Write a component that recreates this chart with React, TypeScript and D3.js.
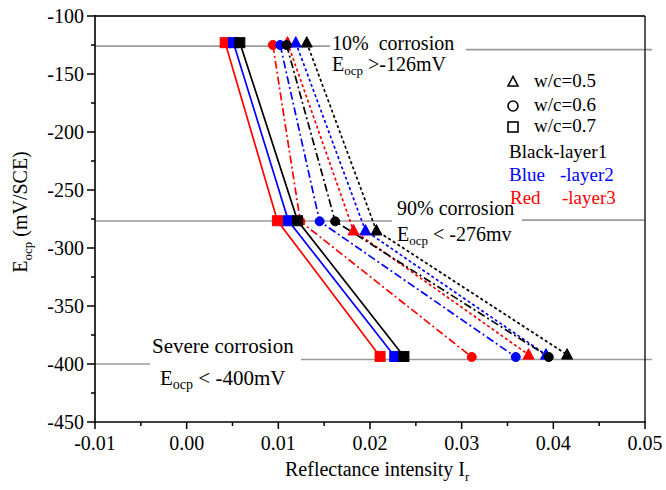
import React from 'react';
import * as d3 from 'd3';

const W = 666;
const H = 490;

// Axis domains and ticks
const xDomain = [-0.01, 0.05];
const yDomain = [-450, -100];
const xTicks = [-0.01, 0, 0.01, 0.02, 0.03, 0.04, 0.05];
const xTickLabels = ['-0.01', '0.00', '0.01', '0.02', '0.03', '0.04', '0.05'];
const xMinorTicks = [-0.005, 0.005, 0.015, 0.025, 0.035, 0.045];
const yTicks = [-100, -150, -200, -250, -300, -350, -400, -450];
const yMinorTicks = [-125, -175, -225, -275, -325, -375, -425];

// Series
const layerNames = ['layer1', 'layer2', 'layer3'];
const layerColors = ['#000000', '#0000ff', '#ff0000'];
const wcRatios = ['0.5', '0.6', '0.7'];
const wcMarkers = ['triangle', 'circle', 'square'];

// Eocp (mV/SCE) at 10% corrosion, 90% corrosion, severe corrosion, per w/c
const eocpWc05 = [-123, -285, -392];
const eocpWc06 = [-125, -277, -394];
const eocpWc07 = [-123, -276.5, -393.5];

// Reflectance intensity per layer: [w/c 0.5, w/c 0.6, w/c 0.7]
const irLayer1 = [
  [0.0131, 0.0207, 0.0415],
  [0.0109, 0.0162, 0.0395],
  [0.0058, 0.0121, 0.0237],
];
const irLayer2 = [
  [0.0119, 0.0195, 0.0392],
  [0.0102, 0.0145, 0.0359],
  [0.0051, 0.0111, 0.0227],
];
const irLayer3 = [
  [0.011, 0.0182, 0.0373],
  [0.0094, 0.0124, 0.0311],
  [0.0042, 0.0099, 0.0211],
];

// Corrosion threshold levels
const thresholdLevels = [-126, -276, -400];

const FONT = 'Liberation Serif';

export default function App() {
  const left = 95, right = 645, top = 16, bottom = 422;
  const x = d3.scaleLinear().domain(xDomain).range([left, right]);
  const y = d3.scaleLinear().domain(yDomain).range([bottom, top]);

  const eocp = [eocpWc05, eocpWc06, eocpWc07];
  const ir = [irLayer1, irLayer2, irLayer3];
  const dashes = ['3,2.5', '8,3,2,3', undefined];

  const line = d3
    .line<[number, number]>()
    .x((d) => x(d[0]))
    .y((d) => y(d[1]));

  const order = [2, 1, 0]; // red, blue, black (black on top)

  const marker = (kind: string, cx: number, cy: number, color: string, key: string, hollow = false) => {
    const fill = hollow ? 'none' : color;
    const stroke = hollow ? '#000' : color;
    const sw = hollow ? 1.6 : 1;
    if (kind === 'square') {
      return <rect key={key} x={cx - 5} y={cy - 5} width={10} height={10} fill={fill} stroke={stroke} strokeWidth={sw} />;
    }
    if (kind === 'circle') {
      return <circle key={key} cx={cx} cy={cy} r={hollow ? 5 : 4.5} fill={fill} stroke={stroke} strokeWidth={sw} />;
    }
    const s = hollow ? 10 : 11;
    const pts = `${cx},${cy - s * 0.55} ${cx - s / 2},${cy + s * 0.4} ${cx + s / 2},${cy + s * 0.4}`;
    return <polygon key={key} points={pts} fill={fill} stroke={stroke} strokeWidth={sw} strokeLinejoin="miter" />;
  };

  const gray = '#9a9a9a';
  const tf = { fontFamily: FONT };

  return (
    <svg width={W} height={H} style={{ position: 'absolute', left: 0, top: 0, background: '#fff', fontFamily: FONT }}>
      <rect x={0} y={0} width={W} height={H} fill="#fff" />

      {/* threshold gray lines */}
      <g stroke={gray} strokeWidth={1.6}>
        <line x1={left} x2={330} y1={y(thresholdLevels[0])} y2={y(thresholdLevels[0])} />
        <line x1={466} x2={652} y1={y(thresholdLevels[0]) + 3.5} y2={y(thresholdLevels[0]) + 3.5} />
        <line x1={left} x2={392} y1={y(thresholdLevels[1]) + 0.8} y2={y(thresholdLevels[1]) + 0.8} />
        <line x1={522} x2={645} y1={y(thresholdLevels[1])} y2={y(thresholdLevels[1])} />
        <line x1={left} x2={150} y1={y(thresholdLevels[2])} y2={y(thresholdLevels[2])} />
        <line x1={301} x2={652} y1={y(thresholdLevels[2]) - 4.5} y2={y(thresholdLevels[2]) - 4.5} />
      </g>

      {/* frame */}
      <line x1={left} x2={right} y1={top} y2={top} stroke="#333" strokeWidth={2} />
      <line x1={right} x2={right} y1={top} y2={bottom} stroke="#222" strokeWidth={1.5} />
      <line x1={left} x2={left} y1={top - 1} y2={bottom + 1} stroke="#000" strokeWidth={1.6} />
      <line x1={left - 1} x2={right + 1} y1={bottom} y2={bottom} stroke="#000" strokeWidth={1.6} />

      {/* y ticks */}
      {yTicks.map((t) => (
        <g key={'yt' + t}>
          <line x1={left - 8} x2={left} y1={y(t)} y2={y(t)} stroke="#000" strokeWidth={1.5} />
          <text x={left - 11} y={y(t)} dy="0.35em" textAnchor="end" fontSize={20} fill="#000" style={tf}>
            {t}
          </text>
        </g>
      ))}
      {yMinorTicks.map((t) => (
        <line key={'ym' + t} x1={left - 4} x2={left} y1={y(t)} y2={y(t)} stroke="#000" strokeWidth={1.5} />
      ))}

      {/* x ticks */}
      {xTicks.map((t, i) => (
        <g key={'xt' + i}>
          <line x1={x(t)} x2={x(t)} y1={bottom} y2={bottom + 7} stroke="#000" strokeWidth={1.5} />
          <text x={x(t)} y={bottom + 28} textAnchor="middle" fontSize={20} fill="#000" style={tf}>
            {xTickLabels[i]}
          </text>
        </g>
      ))}
      {xMinorTicks.map((t) => (
        <line key={'xm' + t} x1={x(t)} x2={x(t)} y1={bottom} y2={bottom + 4} stroke="#000" strokeWidth={1.5} />
      ))}

      {/* axis titles */}
      <text x={285} y={476} fontSize={20} fill="#000" style={tf}>
        Reflectance intensity I<tspan fontSize={13} dy={5}>r</tspan>
      </text>
      <text transform="translate(27,212) rotate(-90)" textAnchor="middle" fontSize={20} fill="#000" style={tf}>
        E<tspan fontSize={13} dy={5}>ocp</tspan>
        <tspan dy={-5}> (mV/SCE)</tspan>
      </text>

      {/* series lines */}
      {order.map((li) =>
        wcMarkers.map((m, wi) => {
          const pts: [number, number][] = ir[li][wi].map((v, k) => [v, eocp[wi][k]]);
          return (
            <path
              key={'l' + li + wi}
              d={line(pts) || ''}
              fill="none"
              stroke={layerColors[li]}
              strokeWidth={1.7}
              strokeDasharray={dashes[wi]}
            />
          );
        })
      )}

      {/* series markers */}
      {order.map((li) =>
        wcMarkers.map((m, wi) =>
          ir[li][wi].map((v, k) => marker(m, x(v), y(eocp[wi][k]), layerColors[li], `m${li}${wi}${k}`))
        )
      )}

      {/* annotations */}
      <g fontSize={20} fill="#000" style={tf}>
        <text x={332} y={50} xmlSpace="preserve">10%  corrosion</text>
        <text x={332} y={71}>
          E<tspan fontSize={13} dy={4}>ocp</tspan>
          <tspan dy={-4}> &gt;-126mV</tspan>
        </text>
        <text x={397} y={215}>90% corrosion</text>
        <text x={397} y={241}>
          E<tspan fontSize={13} dy={4}>ocp</tspan>
          <tspan dy={-4}> &lt; -276mv</tspan>
        </text>
        <text x={152} y={353} fontSize={21}>Severe corrosion</text>
        <text x={160} y={385} fontSize={21}>
          E<tspan fontSize={14} dy={4}>ocp</tspan>
          <tspan dy={-4}> &lt; -400mV</tspan>
        </text>
      </g>

      {/* legend */}
      {wcMarkers.map((m, i) => {
        const cy = [82, 106, 127][i];
        return (
          <g key={'lg' + i}>
            {marker(m, 513, cy, '#000', 'lgm' + i, true)}
            <text x={534} y={cy + 5} fontSize={19} fill="#000" style={tf}>
              w/c={wcRatios[i]}
            </text>
          </g>
        );
      })}
      <g fontSize={19} style={tf}>
        <text x={509} y={158} fill={layerColors[0]}>Black-{layerNames[0]}</text>
        <text x={509} y={181} fill={layerColors[1]}>Blue</text>
        <text x={560} y={181} fill={layerColors[1]}>-{layerNames[1]}</text>
        <text x={510} y={204} fill={layerColors[2]}>Red</text>
        <text x={562} y={204} fill={layerColors[2]}>-{layerNames[2]}</text>
      </g>
    </svg>
  );
}
